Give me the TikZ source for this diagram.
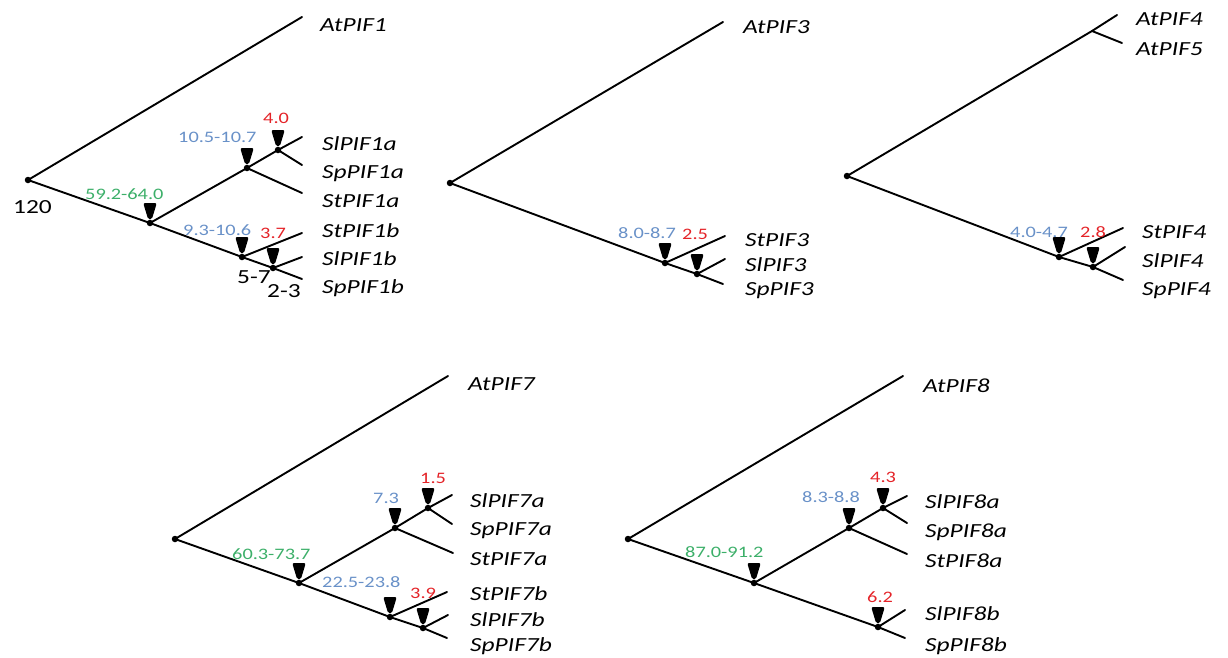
\documentclass[tikz,border=0pt]{standalone}
\usepackage{fontspec}
\setmainfont{Carlito}[FakeStretch=1.27]
\definecolor{agegreen}{RGB}{60,175,105}
\definecolor{ageblue}{RGB}{105,145,200}
\definecolor{agered}{RGB}{228,35,40}
\tikzset{
  branch/.style={line width=1.9pt, line cap=round},
  split/.style={circle, fill=black, inner sep=0pt, minimum size=6.5pt},
  taxon/.style={anchor=base west, inner sep=0pt, font=\fontsize{20}{24}\selectfont\itshape},
  age/.style={anchor=base west, inner sep=0pt, font=\fontsize{16}{19}\selectfont},
  oldage/.style={age, text=agegreen},
  midage/.style={age, text=ageblue},
  newage/.style={age, text=agered},
  rootage/.style={anchor=base west, inner sep=0pt, font=\fontsize{20}{24}\selectfont},
}
% downward wedge marking a duplication just above a split
\newcommand\dupmark[1]{%
  \fill[rounded corners=2pt] ([shift={(-6.8,-20)}]#1.center) -- ([shift={(6.8,-20)}]#1.center)
    -- ([shift={(1.8,-3.5)}]#1.center) -- ([shift={(-1.8,-3.5)}]#1.center) -- cycle;}
\begin{document}
\begin{tikzpicture}[x=1pt,y=-1pt]
\useasboundingbox (0,0) rectangle (1228,657);

% ---------------- PIF1 ----------------
\node[split] (p1r) at (28,180) {};
\node[split] (p1a) at (150,223) {};
\node[split] (p1b) at (247,168) {};
\node[split] (p1c) at (278,150) {};
\node[split] (p1d) at (242,257) {};
\node[split] (p1e) at (273,268) {};
\coordinate (p1l0) at (302,17);
\coordinate (p1l1) at (302,137);
\coordinate (p1l2) at (302,165);
\coordinate (p1l3) at (302,193);
\coordinate (p1l4) at (302,233);
\coordinate (p1l5) at (302,257);
\coordinate (p1l6) at (302,279);
\draw[branch] (p1r.center) -- (p1l0);
\draw[branch] (p1r.center) -- (p1a.center) -- (p1b.center) -- (p1c.center) -- (p1l1);
\draw[branch] (p1c.center) -- (p1l2);
\draw[branch] (p1b.center) -- (p1l3);
\draw[branch] (p1a.center) -- (p1d.center) -- (p1e.center) -- (p1l6);
\draw[branch] (p1d.center) -- (p1l4);
\draw[branch] (p1e.center) -- (p1l5);
\dupmark{p1a}\dupmark{p1b}\dupmark{p1c}\dupmark{p1d}\dupmark{p1e}
\node[taxon] (t1at) at (320,31) {AtPIF1};
\node[taxon] (t1sla) at (322,150) {SlPIF1a};
\node[taxon] (t1spa) at (322,178) {SpPIF1a};
\node[taxon] (t1sta) at (322,207) {StPIF1a};
\node[taxon] (t1stb) at (322,237) {StPIF1b};
\node[taxon] (t1slb) at (322,265) {SlPIF1b};
\node[taxon] (t1spb) at (322,293) {SpPIF1b};
\node[midage] (g1b) at (178,142) {10.5-10.7};
\node[newage] (g1c) at (263,123) {4.0};
\node[oldage] (g1a) at (85,199) {59.2-64.0};
\node[midage] (g1d) at (183,235) {9.3-10.6};
\node[newage] (g1e) at (260,238) {3.7};
\node[rootage] (g1r) at (13,213) {120};
\node[rootage] (g1dd) at (237,283) {5-7};
\node[rootage] (g1ee) at (267,297) {2-3};

% ---------------- PIF3 ----------------
\node[split] (p3r) at (450,183) {};
\node[split] (p3f) at (665,263) {};
\node[split] (p3g) at (697,274) {};
\coordinate (p3l0) at (723,22);
\coordinate (p3l1) at (725,236);
\coordinate (p3l2) at (725,259);
\coordinate (p3l3) at (723,284);
\draw[branch] (p3r.center) -- (p3l0);
\draw[branch] (p3r.center) -- (p3f.center) -- (p3g.center) -- (p3l3);
\draw[branch] (p3f.center) -- (p3l1);
\draw[branch] (p3g.center) -- (p3l2);
\dupmark{p3f}\dupmark{p3g}
\node[taxon] (t3at) at (743,33) {AtPIF3};
\node[taxon] (t3st) at (745,246) {StPIF3};
\node[taxon] (t3sl) at (745,271) {SlPIF3};
\node[taxon] (t3sp) at (745,295) {SpPIF3};
\node[midage] (g3f) at (618,238) {8.0-8.7};
\node[newage] (g3g) at (682,239) {2.5};

% ---------------- PIF4 / PIF5 ----------------
\node[split] (p4r) at (847,176) {};
\coordinate (p4h) at (1092,31);
\node[split] (p4i) at (1059,257) {};
\node[split] (p4j) at (1093,267) {};
\coordinate (p4l0) at (1117,15);
\coordinate (p4l1) at (1122,43);
\coordinate (p4l2) at (1123,228);
\coordinate (p4l3) at (1125,247);
\coordinate (p4l4) at (1123,280);
\draw[branch] (p4r.center) -- (p4h) -- (p4l0);
\draw[branch] (p4h) -- (p4l1);
\draw[branch] (p4r.center) -- (p4i.center) -- (p4j.center) -- (p4l4);
\draw[branch] (p4i.center) -- (p4l2);
\draw[branch] (p4j.center) -- (p4l3);
\dupmark{p4i}\dupmark{p4j}
\node[taxon] (t4at4) at (1136,25) {AtPIF4};
\node[taxon] (t4at5) at (1136,55) {AtPIF5};
\node[taxon] (t4st) at (1142,238) {StPIF4};
\node[taxon] (t4sl) at (1142,267) {SlPIF4};
\node[taxon] (t4sp) at (1142,295) {SpPIF4};
\node[midage] (g4i) at (1010,237) {4.0-4.7};
\node[newage] (g4j) at (1080,237) {2.8};

% ---------------- PIF7 ----------------
\node[split] (p7r) at (175,539) {};
\node[split] (p7k) at (299,583) {};
\node[split] (p7l) at (395,528) {};
\node[split] (p7m) at (428,508) {};
\node[split] (p7n) at (390,617) {};
\node[split] (p7o) at (423,628) {};
\coordinate (p7l0) at (448,376);
\coordinate (p7l1) at (452,495);
\coordinate (p7l2) at (452,524);
\coordinate (p7l3) at (453,553);
\coordinate (p7l4) at (447,592);
\coordinate (p7l5) at (448,615);
\coordinate (p7l6) at (447,638);
\draw[branch] (p7r.center) -- (p7l0);
\draw[branch] (p7r.center) -- (p7k.center) -- (p7l.center) -- (p7m.center) -- (p7l1);
\draw[branch] (p7m.center) -- (p7l2);
\draw[branch] (p7l.center) -- (p7l3);
\draw[branch] (p7k.center) -- (p7n.center) -- (p7o.center) -- (p7l6);
\draw[branch] (p7n.center) -- (p7l4);
\draw[branch] (p7o.center) -- (p7l5);
\dupmark{p7k}\dupmark{p7l}\dupmark{p7m}\dupmark{p7n}\dupmark{p7o}
\node[taxon] (t7at) at (468,390) {AtPIF7};
\node[taxon] (t7sla) at (470,507) {SlPIF7a};
\node[taxon] (t7spa) at (470,535) {SpPIF7a};
\node[taxon] (t7sta) at (470,565) {StPIF7a};
\node[taxon] (t7stb) at (470,600) {StPIF7b};
\node[taxon] (t7slb) at (470,626) {SlPIF7b};
\node[taxon] (t7spb) at (470,651) {SpPIF7b};
\node[newage] (g7m) at (420,483) {1.5};
\node[midage] (g7l) at (373,503) {7.3};
\node[oldage] (g7k) at (232,559) {60.3-73.7};
\node[midage] (g7n) at (322,587) {22.5-23.8};
\node[newage] (g7o) at (410,598) {3.9};

% ---------------- PIF8 ----------------
\node[split] (p8r) at (628,539) {};
\node[split] (p8p) at (754,583) {};
\node[split] (p8q) at (849,528) {};
\node[split] (p8s) at (883,508) {};
\node[split] (p8t) at (878,627) {};
\coordinate (p8l0) at (903,376);
\coordinate (p8l1) at (907,496);
\coordinate (p8l2) at (907,523);
\coordinate (p8l3) at (907,554);
\coordinate (p8l4) at (905,610);
\coordinate (p8l5) at (905,638);
\draw[branch] (p8r.center) -- (p8l0);
\draw[branch] (p8r.center) -- (p8p.center) -- (p8q.center) -- (p8s.center) -- (p8l1);
\draw[branch] (p8s.center) -- (p8l2);
\draw[branch] (p8q.center) -- (p8l3);
\draw[branch] (p8p.center) -- (p8t.center) -- (p8l5);
\draw[branch] (p8t.center) -- (p8l4);
\dupmark{p8p}\dupmark{p8q}\dupmark{p8s}\dupmark{p8t}
\node[taxon] (t8at) at (923,392) {AtPIF8};
\node[taxon] (t8sla) at (925,508) {SlPIF8a};
\node[taxon] (t8spa) at (925,537) {SpPIF8a};
\node[taxon] (t8sta) at (925,567) {StPIF8a};
\node[taxon] (t8slb) at (925,620) {SlPIF8b};
\node[taxon] (t8spb) at (925,651) {SpPIF8b};
\node[newage] (g8s) at (870,482) {4.3};
\node[midage] (g8q) at (802,502) {8.3-8.8};
\node[oldage] (g8p) at (685,557) {87.0-91.2};
\node[newage] (g8t) at (867,602) {6.2};
\end{tikzpicture}
\end{document}
